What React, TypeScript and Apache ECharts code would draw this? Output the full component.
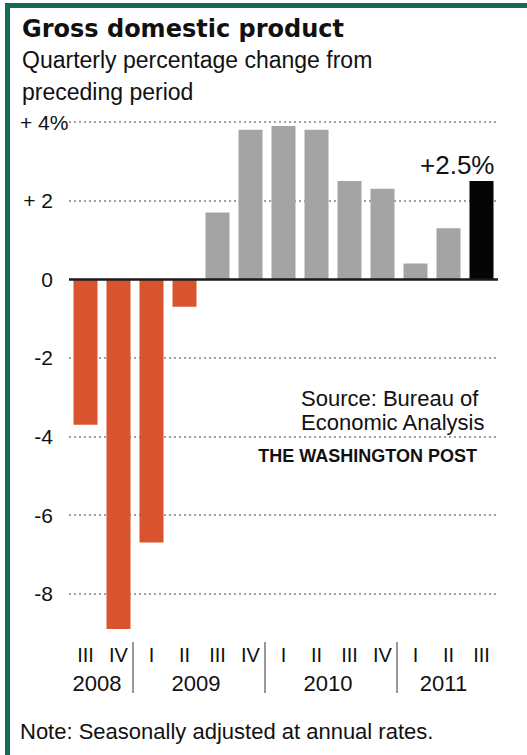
import React, { useEffect, useRef } from 'react';
import * as echarts from 'echarts';

// ---- Data ----
const quarters = ['III', 'IV', 'I', 'II', 'III', 'IV', 'I', 'II', 'III', 'IV', 'I', 'II', 'III'];
const quarterYears = ['2008', '2008', '2009', '2009', '2009', '2009', '2010', '2010', '2010', '2010', '2011', '2011', '2011'];
const years = ['2008', '2009', '2010', '2011'];
const gdpChange = [-3.7, -8.9, -6.7, -0.7, 1.7, 3.8, 3.9, 3.8, 2.5, 2.3, 0.4, 1.3, 2.5];
const yTicks = [4, 2, 0, -2, -4, -6, -8];
const yTickLabels = ['+ 4%', '+ 2', '0', '-2', '-4', '-6', '-8'];
const gridValues = [4, 2, -2, -4, -6, -8];
const latestLabel = '+2.5%';

const titleText = 'Gross domestic product';
const subtitleLines = ['Quarterly percentage change from', 'preceding period'];
const sourceLines = ['Source: Bureau of', 'Economic Analysis'];
const creditText = 'THE WASHINGTON POST';
const noteText = 'Note: Seasonally adjusted at annual rates.';

// ---- Styles ----
const SANS = "'Liberation Sans', Arial, sans-serif";
const NARROW = "'Liberation Sans Narrow', 'Liberation Sans', Arial, sans-serif";
const TITLE_FONT = "'DejaVu Sans', 'Liberation Sans', sans-serif";
const RED = '#d9532f';
const GRAY = '#a4a4a4';
const BLACK = '#050505';
const GREEN = '#176b56';
const TEXT = '#111111';

function txt(text: string, x: number, y: number, fontSize: number, opts: any = {}) {
  const align = opts.align || 'left';
  return {
    type: 'text',
    x,
    y,
    silent: true,
    style: {
      text,
      fontSize,
      fontFamily: opts.fontFamily || SANS,
      fontWeight: opts.fontWeight || 'normal',
      fill: opts.fill || TEXT,
      align,
      textAlign: align,
      verticalAlign: 'middle',
      textVerticalAlign: 'middle',
    },
  };
}

export default function App() {
  const ref = useRef<HTMLDivElement>(null);

  useEffect(() => {
    const el = ref.current;
    if (!el) return;
    const chart = echarts.init(el, null, { renderer: 'svg' });
    const last = gdpChange.length - 1;

    const option: any = {
      animation: false,
      grid: { left: 69, right: 29, top: 122, bottom: 122 },
      xAxis: [
        {
          type: 'category',
          data: quarters,
          position: 'bottom',
          axisLine: { show: false, onZero: false },
          axisTick: { show: false },
          splitLine: { show: false },
          axisLabel: {
            interval: 0,
            margin: 12,
            fontSize: 20,
            color: TEXT,
            fontFamily: NARROW,
          },
        },
      ],
      yAxis: {
        type: 'value',
        min: -9,
        max: 4,
        interval: 1,
        splitLine: { show: false },
        axisLine: { show: false },
        axisTick: { show: false },
        axisLabel: {
          margin: 16,
          fontSize: 21,
          color: TEXT,
          fontFamily: SANS,
          formatter: (v: number) => {
            const i = yTicks.indexOf(Math.round(v));
            if (i < 0 || Math.abs(v - Math.round(v)) > 1e-6) return '';
            if (i === 0) return '{w|' + yTickLabels[i] + '}';
            return yTickLabels[i];
          },
          rich: {
            w: { width: 33, align: 'left', fontSize: 21, color: TEXT, fontFamily: SANS },
          },
        },
      },
      series: [
        {
          type: 'line',
          data: [],
          silent: true,
          markLine: {
            z: 1,
            silent: true,
            symbol: 'none',
            label: { show: false },
            lineStyle: { color: '#a0a0a0', width: 2, type: [2, 3] },
            data: gridValues.map((v) => ({ yAxis: v })),
          },
        },
        {
          type: 'bar',
          z: 2,
          barWidth: 24,
          silent: true,
          data: gdpChange.map((v, i) => ({
            value: v,
            itemStyle: { color: v < 0 ? RED : i === last ? BLACK : GRAY },
            label:
              i === last
                ? {
                    show: true,
                    position: 'top',
                    distance: 3,
                    align: 'right',
                    offset: [13, 0],
                    formatter: latestLabel,
                    fontSize: 26,
                    color: TEXT,
                    fontFamily: SANS,
                  }
                : { show: false },
          })),
          markLine: {
            z: 5,
            silent: true,
            symbol: 'none',
            label: { show: false },
            lineStyle: { color: '#1a1a1a', width: 2.5, type: 'solid' },
            data: [{ yAxis: 0 }],
          },
        },
      ],
    };
    chart.setOption(option);

    // Positions of year labels and separators from the category scale
    const xs = quarters.map((_, i) => chart.convertToPixel({ xAxisIndex: 0 }, i) as number);
    const band = xs[1] - xs[0];
    const yearEls: any[] = [];
    years.forEach((yr, k) => {
      const idx = quarterYears.map((q, i) => (q === yr ? i : -1)).filter((i) => i >= 0);
      const first = idx[0];
      const lastIdx = idx[idx.length - 1];
      const cx = (xs[first] + xs[lastIdx]) / 2;
      yearEls.push(txt(yr, cx - 5, 683, 22, { align: 'center' }));
      if (k > 0) {
        const sx = xs[first] - band / 2 - 2;
        yearEls.push({
          type: 'line',
          silent: true,
          shape: { x1: sx, y1: 642, x2: sx, y2: 693 },
          style: { stroke: '#777', lineWidth: 1.5 },
        });
      }
    });

    chart.setOption({
      graphic: [
        { type: 'rect', silent: true, shape: { x: 5, y: 3, width: 522, height: 5 }, style: { fill: GREEN } },
        { type: 'rect', silent: true, shape: { x: 5, y: 3, width: 5, height: 752 }, style: { fill: GREEN } },
        txt(titleText, 22, 29, 24, { fontFamily: TITLE_FONT, fontWeight: 'bold' }),
        txt(subtitleLines[0], 22, 60, 23),
        txt(subtitleLines[1], 22, 92, 23),
        txt(sourceLines[0], 301, 398, 22),
        txt(sourceLines[1], 301, 422, 22),
        txt(creditText, 477, 456, 18, { align: 'right', fontWeight: 'bold' }),
        txt(noteText, 20, 731, 22),
        ...yearEls,
      ],
    });

    return () => {
      chart.dispose();
    };
  }, []);

  return (
    <div
      ref={ref}
      style={{ position: 'fixed', left: 0, top: 0, width: 527, height: 755, background: '#fff' }}
    />
  );
}
